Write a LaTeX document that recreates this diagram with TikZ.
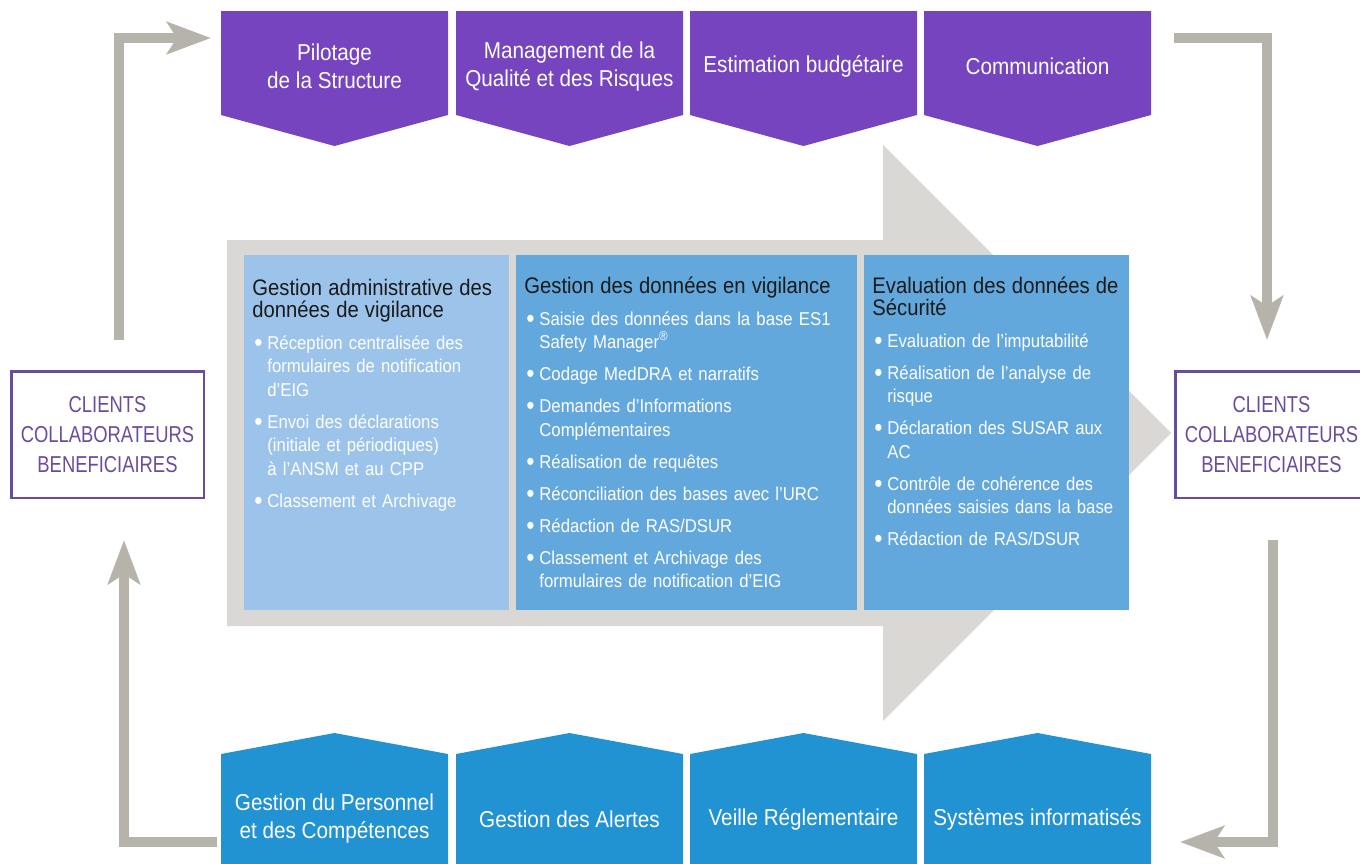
\documentclass[tikz,border=0pt]{standalone}
\usepackage{fontspec}
\setmainfont{Liberation Sans}[FakeStretch=0.9]
\newfontfamily\clientfont{Liberation Sans}[FakeStretch=0.8]
\usetikzlibrary{arrows.meta}

\definecolor{purp}{RGB}{117,68,190}
\definecolor{botblue}{RGB}{33,146,210}
\definecolor{panlight}{RGB}{156,196,235}
\definecolor{panmid}{RGB}{99,168,221}
\definecolor{biggray}{RGB}{217,216,213}
\definecolor{flowgray}{RGB}{182,179,171}
\definecolor{clipurp}{RGB}{106,76,156}
\definecolor{titlecol}{RGB}{26,26,26}

\newcommand{\ptitle}[1]{{\color{titlecol}\fontsize{11.25}{11}\selectfont #1\par}}
\newcommand{\itm}[1]{\vspace{4.25pt}\hangindent=7.5pt\hangafter=1\noindent\makebox[7.5pt][l]{\hspace{1pt}\raisebox{-1.1pt}{\fontsize{13}{13}\selectfont\textbullet}}#1\par}

\tikzset{
  boxtext/.style={text=white, align=center, inner sep=0pt, outer sep=0pt,
    minimum width=113.5pt, minimum height=52pt, font=\fontsize{11.5}{14}\selectfont},
  clients/.style={draw=clipurp, line width=1.25pt, text=clipurp, align=center,
    inner sep=0pt, minimum width=96.25pt, minimum height=63.25pt,
    font=\clientfont\fontsize{11.5}{15}\selectfont},
  panel/.style={anchor=base west, inner sep=0pt, text width=#1, align=left,
    text=white, font=\fontsize{9.3}{11.75}\selectfont},
  flow/.style={draw=flowgray, line width=5pt, -{Stealth[length=22pt,width=16pt,inset=5pt]}}
}

\begin{document}
\begin{tikzpicture}[x=0.5pt, y=-0.5pt]
\useasboundingbox (0,0) rectangle (1360,863);
\clip (0,0) rectangle (1360,863);
% big grey arrow behind the panels
\fill[biggray] (227,240) -- (883,240) -- (883,145) -- (1171,433) -- (883,721) -- (883,626) -- (227,626) -- cycle;
% top and bottom row shapes
\foreach \x in {334.5,569.5,803.5,1037.5} {
  \fill[purp] (\x-113.5,11) -- (\x+113.5,11) -- (\x+113.5,115) -- (\x,146) -- (\x-113.5,115) -- cycle;
  \fill[botblue] (\x-113.5,870) -- (\x-113.5,754) -- (\x,733) -- (\x+113.5,754) -- (\x+113.5,870) -- cycle;
}
\node[boxtext] (pil) at (334.5,66.5) {Pilotage\\de la Structure};
\node[boxtext] (qua) at (569.5,66.5) {Management de la\\Qualité et des Risques};
\node[boxtext] (bud) at (803.5,66.5) {Estimation budgétaire};
\node[boxtext] (com) at (1037.5,66.5) {Communication};
\node[boxtext] (ges) at (334.5,819) {Gestion du Personnel\\et des Compétences};
\node[boxtext] (ale) at (569.5,819) {Gestion des Alertes};
\node[boxtext] (vei) at (803.5,819) {Veille Réglementaire};
\node[boxtext] (sys) at (1037.5,819) {Systèmes informatisés};
% panels
\fill[panlight] (244,255) rectangle (509,610);
\fill[panmid] (516,255) rectangle (857,610);
\fill[panmid] (864,255) rectangle (1129,610);
\node[panel=150pt] (adm) at (252,295) {%
  \ptitle{Gestion administrative des\\données de vigilance}
  \itm{Réception centralisée des\newline formulaires de notification\newline d’EIG}
  \itm{Envoi des déclarations\newline (initiale et périodiques)\newline à l’ANSM et au CPP}
  \itm{Classement et Archivage}};
\node[panel=175pt] (don) at (524,293) {%
  \ptitle{Gestion des données en vigilance}
  \itm{Saisie des données dans la base ES1\newline Safety Manager\textsuperscript{®}}
  \itm{Codage MedDRA et narratifs}
  \itm{Demandes d’Informations\newline Complémentaires}
  \itm{Réalisation de requêtes}
  \itm{Réconciliation des bases avec l’URC}
  \itm{Rédaction de RAS/DSUR}
  \itm{Classement et Archivage des\newline formulaires de notification d’EIG}};
\node[panel=150pt] (eva) at (872,293) {%
  \ptitle{Evaluation des données de\\Sécurité}
  \itm{Evaluation de l’imputabilité}
  \itm{Réalisation de l’analyse de\newline risque}
  \itm{Déclaration des SUSAR aux\newline AC}
  \itm{Contrôle de cohérence des\newline données saisies dans la base}
  \itm{Rédaction de RAS/DSUR}};
% clients
\node[clients] (cliL) at (107.5,434.5) {CLIENTS\\COLLABORATEURS\\BENEFICIAIRES};
\node[clients] (cliR) at (1271.5,434.5) {CLIENTS\\COLLABORATEURS\\BENEFICIAIRES};
% loop connectors
\draw[flow] ([xshift=5.75pt,yshift=15pt]cliL.north) |- ([xshift=-5pt,yshift=14.25pt]pil.west);
\draw[flow] ([xshift=11.5pt,yshift=14.25pt]com.east) -| ([xshift=-2.25pt,yshift=15pt]cliR.north);
\draw[flow] ([xshift=0.75pt,yshift=-20.5pt]cliR.south) |- ([xshift=14.5pt,yshift=-11.5pt]sys.east);
\draw[flow] ([xshift=-2pt,yshift=-11.5pt]ges.west) -| ([xshift=8.25pt,yshift=-20.5pt]cliL.south);
\end{tikzpicture}
\end{document}
